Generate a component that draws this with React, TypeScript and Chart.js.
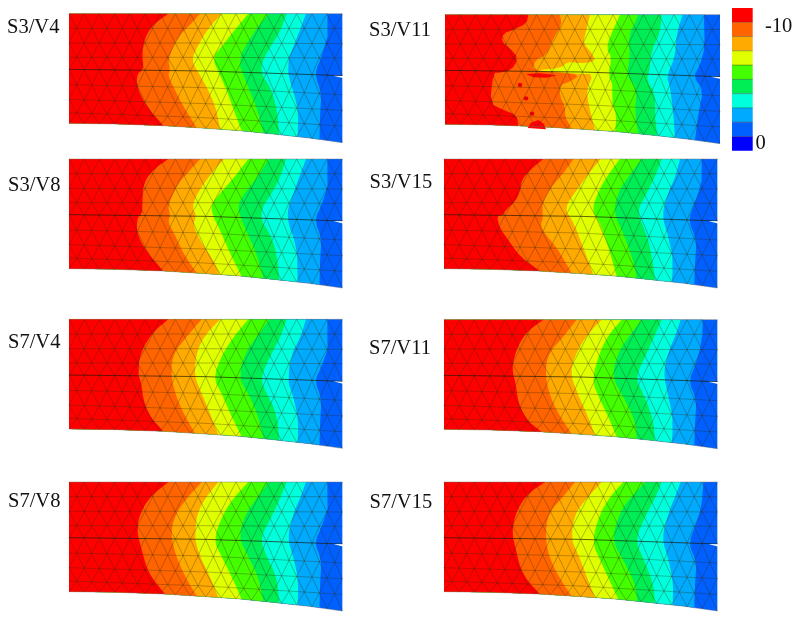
import React, { useEffect, useRef } from "react";
import { Chart, registerables } from "chart.js";

Chart.register(...registerables);

type P = number[];

const bandColors = ["#ff0000", "#ff6400", "#ffaa00", "#e0ff00", "#44ff00", "#00ee55", "#00ffdd", "#00aaff", "#0060ff", "#0000ff"];
const scaleLabels = ["-10", "0"];

// Contour boundaries, red/orange to sky/blue, read in 1/3 px units
const s3v4: P[][] = [
  [[505,41],[470,65],[440,100],[425,155],[432,208],[410,222],[412,265],[440,320],[490,377]],
  [[600,41],[570,75],[530,115],[503,180],[512,208],[503,225],[525,270],[550,320],[590,382]],
  [[665,41],[625,85],[595,135],[573,180],[600,225],[625,270],[650,330],[660,386]],
  [[745,41],[700,95],[665,140],[637,172],[655,215],[680,270],[705,340],[725,392]],
  [[805,41],[770,85],[735,140],[715,180],[735,240],[770,320],[790,397]],
  [[860,41],[840,95],[815,135],[785,185],[785,225],[810,260],[830,320],[838,403]],
  [[918,41],[900,90],[880,140],[862,185],[868,240],[885,290],[895,340],[893,410]],
  [[982,41],[985,100],[965,170],[943,222],[965,280],[960,340],[958,417]],
];
const s3v8: P[][] = [
  [[505,27],[465,55],[435,90],[425,140],[428,190],[410,205],[412,255],[440,305],[490,362]],
  [[600,27],[570,60],[530,105],[503,170],[512,195],[503,215],[525,255],[550,310],[590,368]],
  [[672,27],[630,75],[595,125],[575,170],[590,195],[578,225],[605,280],[640,330],[660,372]],
  [[745,27],[700,85],[660,130],[632,165],[640,200],[660,240],[690,310],[725,378]],
  [[805,27],[770,85],[730,135],[712,170],[730,225],[770,310],[790,384]],
  [[858,27],[840,85],[815,130],[785,175],[785,215],[810,250],[830,310],[838,390]],
  [[918,27],[900,75],[880,130],[862,180],[866,225],[885,275],[893,330],[893,396]],
  [[982,27],[985,100],[965,165],[943,210],[965,265],[960,330],[958,403]],
];
const s7v4: P[][] = [
  [[505,28],[460,65],[425,120],[412,180],[425,225],[430,270],[450,320],[490,362]],
  [[605,28],[560,80],[520,130],[512,190],[525,250],[550,310],[585,370]],
  [[660,28],[615,75],[590,125],[582,195],[605,250],[630,310],[655,374]],
  [[745,28],[705,75],[665,135],[640,205],[665,250],[690,310],[725,380]],
  [[808,28],[770,80],[735,130],[715,200],[750,260],[775,320],[790,386]],
  [[860,28],[840,85],[815,130],[780,205],[800,250],[830,310],[838,392]],
  [[918,28],[900,85],[875,130],[862,210],[880,260],[895,330],[893,400]],
  [[982,28],[985,110],[965,170],[943,212],[965,265],[960,340],[958,407]],
];
const s7v8: P[][] = [
  [[505,36],[450,80],[420,130],[410,180],[425,240],[445,310],[495,370]],
  [[605,36],[560,85],[525,135],[512,190],[525,250],[555,320],[590,378]],
  [[655,36],[615,85],[590,135],[583,200],[600,260],[630,320],[655,382]],
  [[745,36],[700,85],[670,130],[640,210],[665,260],[695,320],[725,388]],
  [[805,36],[770,85],[735,135],[715,200],[745,260],[775,320],[790,394]],
  [[860,36],[840,85],[815,140],[780,205],[800,260],[830,320],[838,398]],
  [[918,36],[900,85],[880,130],[862,205],[880,260],[895,330],[893,405]],
  [[982,36],[985,110],[965,170],[943,218],[965,270],[960,340],[958,412]],
];
const s3v15: P[][] = [
  [[550,27],[510,60],[485,90],[480,125],[465,155],[437,180],[430,195],[410,198],[420,235],[445,270],[480,320],[540,360]],
  [[640,27],[610,70],[570,115],[545,165],[550,195],[540,230],[570,270],[595,300],[635,368]],
  [[722,27],[690,65],[650,120],[612,175],[640,215],[665,280],[700,370]],
  [[780,27],[740,80],[715,125],[695,180],[720,220],[745,290],[770,378]],
  [[845,27],[805,80],[775,125],[760,185],[790,250],[820,330],[830,383]],
  [[905,27],[885,80],[860,130],[830,185],[855,240],[875,310],[885,393]],
  [[960,27],[945,85],[925,125],[905,195],[925,260],[940,330],[935,398]],
  [[1025,27],[1025,100],[1000,170],[985,212],[1010,270],[1005,340],[1002,403]],
];
const s7v11: P[][] = [
  [[550,29],[500,65],[470,115],[455,175],[468,225],[475,280],[500,330],[545,363]],
  [[650,29],[610,80],[565,130],[555,190],[570,260],[600,320],[635,368]],
  [[725,29],[685,70],[650,125],[630,185],[650,245],[680,310],[705,375]],
  [[785,29],[745,75],[720,125],[695,210],[720,270],[745,320],[770,380]],
  [[845,29],[810,75],[775,125],[755,200],[790,260],[825,330],[830,385]],
  [[905,29],[885,75],[860,130],[825,205],[850,250],[880,330],[885,392]],
  [[962,29],[945,80],[925,125],[910,190],[925,260],[940,330],[935,398]],
  [[1028,29],[1025,100],[1005,170],[985,212],[1010,270],[1005,340],[1002,405]],
];
const s7v15: P[][] = [
  [[555,36],[505,70],[470,120],[455,185],[468,240],[480,290],[500,330],[540,370]],
  [[645,36],[605,85],[565,130],[555,200],[570,270],[605,335],[635,376]],
  [[725,36],[680,85],[645,130],[632,205],[660,265],[680,320],[705,382]],
  [[790,36],[750,80],[720,130],[695,215],[725,280],[750,335],[775,388]],
  [[855,36],[810,85],[780,125],[755,210],[790,270],[825,340],[832,395]],
  [[905,36],[885,85],[860,130],[825,210],[850,265],[880,340],[885,400]],
  [[962,36],[945,80],[925,130],[905,205],[925,265],[940,340],[938,408]],
  [[1030,36],[1025,110],[1005,170],[985,222],[1010,275],[1005,340],[1002,415]],
];
const s3v11: P[][] = [
  [[505,44],[500,70],[460,90],[430,100],[425,125],[450,145],[475,175],[455,210],[420,218],[400,218],[390,310],[430,330],[470,345],[475,382]],
  [[600,44],[605,75],[580,115],[560,165],[525,180],[518,212],[600,218],[660,224],[630,245],[600,255],[600,290],[615,320],[615,350],[635,388]],
  [[690,44],[675,105],[670,130],[700,165],[705,185],[660,190],[625,185],[600,205],[525,211],[600,216],[660,222],[700,222],[680,270],[685,310],[705,392]],
  [[780,44],[750,110],[740,145],[755,175],[745,225],[760,260],[755,300],[770,350],[765,395]],
  [[835,44],[805,110],[810,170],[800,225],[830,265],[825,340],[835,400]],
  [[905,44],[900,100],[875,150],[868,215],[860,240],[885,280],[885,340],[892,408]],
  [[968,44],[950,100],[945,170],[920,230],[930,260],[940,340],[945,412]],
  [[1032,44],[1035,140],[1020,195],[1000,230],[1030,270],[1015,340],[1005,418]],
];
// Red islands and hot nodes of S3/V11
const s3v11Islands: P[][] = [
  [[498,222],[540,220],[590,226],[560,233],[520,232]],
  [[503,384],[512,368],[535,360],[552,372],[558,388]],
];
const s3v11HotNodes: P[] = [[480,255],[498,295],[516,341]];

// Panel: name, crop origin px, panel origin in 1/3 px, width, label x px, label baseline px, contours
const panelNames = ["S3/V4", "S3/V11", "S3/V8", "S3/V15", "S7/V4", "S7/V11", "S7/V8", "S7/V15"];
const panelCrops: P[] = [[0,0],[360,0],[0,150],[360,150],[0,310],[360,310],[0,470],[360,470]];
const panelOrigins: P[] = [[207,41],[255,44],[207,27],[252,27],[207,28],[252,29],[207,36],[252,36]];
const panelWidths = [820, 825, 820, 820, 820, 820, 820, 820];
const labelPos: P[] = [[7,33],[369,36],[8,190.7],[369.5,187.7],[8,348],[369,354],[8,506.7],[369.5,507.7]];
const panelContours = [s3v4, s3v11, s3v8, s3v15, s7v4, s7v11, s7v8, s7v15];

// Geometry in 1/3 px from the panel's top-left corner
const bottomEdge: P[] = [[0,329],[140,331],[283,336],[411,344],[513,351],[620,362],[720,373],[820,387]];
const crackWedge: P[] = [[793,186],[825,187],[825,194]];
const meshRows: P[] = [[0,0,0],[44,44,44],[88,88,90],[131,131,133],[167,172,186],[213,222,243],[257,270,290],[297,312,337],[329,344,387]];
const meshEven = [0,46,91,137,182,228,273,319,364,410,456,501,547,592,638,683,729,774,820];
const meshOdd = [0,23,68,114,160,205,251,296,342,387,433,478,524,569,615,660,706,751,797,820];

const barLeft = 732, barRight = 752.7, barTop = 8, barCell = 14.27;

const bottomAt = (x: number) => {
  for (let i = 1; i < bottomEdge.length; i++) {
    if (x <= bottomEdge[i][0]) {
      const [a, b] = bottomEdge[i - 1];
      const [c, d] = bottomEdge[i];
      return b + ((d - b) * (x - a)) / (c - a);
    }
  }
  return bottomEdge[bottomEdge.length - 1][1];
};
const rowAt = (r: P, x: number) =>
  x <= 410 ? r[0] + ((r[1] - r[0]) * x) / 410 : r[1] + ((r[2] - r[1]) * (x - 410)) / 410;

// rounds the corners of a contour, as the source's contour lines are soft
const soften = (pts: P[], rounds: number) => {
  let cur = pts;
  for (let r = 0; r < rounds; r++) {
    const next: P[] = [cur[0]];
    for (let i = 0; i < cur.length - 1; i++) {
      const [a, b] = cur[i];
      const [c, d] = cur[i + 1];
      next.push([a * 0.75 + c * 0.25, b * 0.75 + d * 0.25], [a * 0.25 + c * 0.75, b * 0.25 + d * 0.75]);
    }
    next.push(cur[cur.length - 1]);
    cur = next;
  }
  return cur;
};

function buildDatasets() {
  const out: any[] = [];
  const poly = (pts: { x: number; y: number }[], color: string) =>
    out.push({ data: pts, showLine: true, fill: "shape", backgroundColor: color, borderWidth: 0, pointRadius: 0 });
  const stroke = (pts: ({ x: number; y: number } | { x: number; y: null })[], color: string, width: number) =>
    out.push({ data: pts, showLine: true, fill: false, borderColor: color, borderWidth: width, pointRadius: 0, spanGaps: false });

  panelNames.forEach((_, p) => {
    const [cx, cy] = panelCrops[p];
    const [ox, oy] = panelOrigins[p];
    const sx = panelWidths[p] / 820;
    const rel = (x: number, y: number) => ({ x: cx + (ox + x * sx) / 3, y: cy + (oy + y) / 3 });
    const abs = (x: number, y: number) => ({ x: cx + x / 3, y: cy + y / 3 });

    // full panel, then nested regions from the coolest boundary to the hottest
    poly([rel(0, 0), rel(820, 0), ...bottomEdge.slice().reverse().map(([x, y]) => rel(x, y))], bandColors[8]);
    const contours = panelContours[p];
    for (let i = contours.length - 1; i >= 0; i--) {
      const b = contours[i];
      const lastX = (b[b.length - 1][0] - ox) / sx;
      const pinned = b.map((q, k) => (k === b.length - 1 ? [q[0], oy + bottomAt(lastX)] : q));
      const jagged = p === 1 || (p === 3 && i === 0);
      const pts = soften(pinned, jagged ? 1 : 2).map(([x, y]) => abs(x, y));
      const under = bottomEdge.filter(([x]) => x < lastX).reverse().map(([x, y]) => rel(x, y));
      poly([rel(0, 0), ...pts, ...under], bandColors[i]);
    }
    if (p === 1) {
      s3v11Islands.forEach((isl) => poly(isl.map(([x, y]) => abs(x, y)), bandColors[0]));
      out.push({
        data: s3v11HotNodes.map(([x, y]) => abs(x, y)),
        showLine: false,
        pointRadius: 2.2,
        pointBackgroundColor: "#e8000a",
        pointBorderWidth: 0,
      });
    }

    // triangular mesh
    const mesh: any[] = [];
    const gap = { x: 0, y: null };
    const nodes = meshRows.map((r, i) => (i % 2 === 0 ? meshEven : meshOdd).map((x) => {
      const y = i === 8 ? bottomAt(x) : rowAt(r, x);
      return [x, y];
    }));
    nodes.forEach((row, i) => {
      if (i !== 0 && i !== 4 && i !== 8) {
        row.forEach(([x, y]) => mesh.push(rel(x, y)));
        mesh.push(gap);
      }
      if (i < nodes.length - 1) {
        row.forEach(([x, y]) => {
          nodes[i + 1].forEach(([x2, y2]) => {
            if (Math.abs(x2 - x) < 30 && x !== x2) {
              mesh.push(rel(x, y), rel(x2, y2), gap);
            }
          });
        });
      }
    });
    stroke(mesh, "rgba(50,40,10,0.45)", 0.7);
    stroke(nodes[4].map(([x, y]) => rel(x, y)), "rgba(30,25,5,0.75)", 0.9);
    poly(crackWedge.map(([x, y]) => rel(x, y)), "#ffffff");
    stroke(
      [rel(0, 0), rel(820, 0), gap, ...bottomEdge.map(([x, y]) => rel(x, y))],
      "rgba(110,110,110,0.55)",
      0.8
    );
  });

  // colour bar
  bandColors.forEach((c, i) => {
    const t = barTop + i * barCell;
    poly(
      [{ x: barLeft, y: t }, { x: barRight, y: t }, { x: barRight, y: t + barCell }, { x: barLeft, y: t + barCell }],
      c
    );
    if (i > 0) stroke([{ x: barLeft, y: t }, { x: barRight, y: t }], "rgba(40,40,20,0.55)", 0.7);
  });
  return out.reverse();
}

const textPlugin = {
  id: "panelText",
  afterDatasetsDraw(chart: any) {
    const { ctx, scales } = chart;
    ctx.save();
    ctx.fillStyle = "#111";
    ctx.textBaseline = "alphabetic";
    ctx.textAlign = "left";
    ctx.font = '20.5px "Liberation Serif"';
    panelNames.forEach((name, i) => {
      ctx.fillText(name, scales.x.getPixelForValue(labelPos[i][0]), scales.y.getPixelForValue(labelPos[i][1]));
    });
    ctx.fillText(scaleLabels[0], scales.x.getPixelForValue(765), scales.y.getPixelForValue(32));
    ctx.fillText(scaleLabels[1], scales.x.getPixelForValue(755.5), scales.y.getPixelForValue(149));
    ctx.restore();
  },
};

export default function App() {
  const ref = useRef<HTMLCanvasElement>(null);
  useEffect(() => {
    if (!ref.current) return;
    const chart = new Chart(ref.current, {
      type: "scatter",
      data: { datasets: buildDatasets() },
      options: {
        animation: false,
        responsive: false,
        layout: { padding: 0, autoPadding: false },
        elements: { line: { tension: 0 } },
        plugins: { legend: { display: false }, tooltip: { enabled: false } },
        scales: {
          x: { type: "linear", min: 0, max: 800, display: false },
          y: { type: "linear", min: 0, max: 626, reverse: true, display: false },
        },
      },
      plugins: [textPlugin],
    } as any);
    return () => chart.destroy();
  }, []);
  return (
    <canvas
      ref={ref}
      width={800}
      height={626}
      style={{ position: "fixed", left: 0, top: 0, display: "block", filter: "blur(0.35px)" }}
    />
  );
}
